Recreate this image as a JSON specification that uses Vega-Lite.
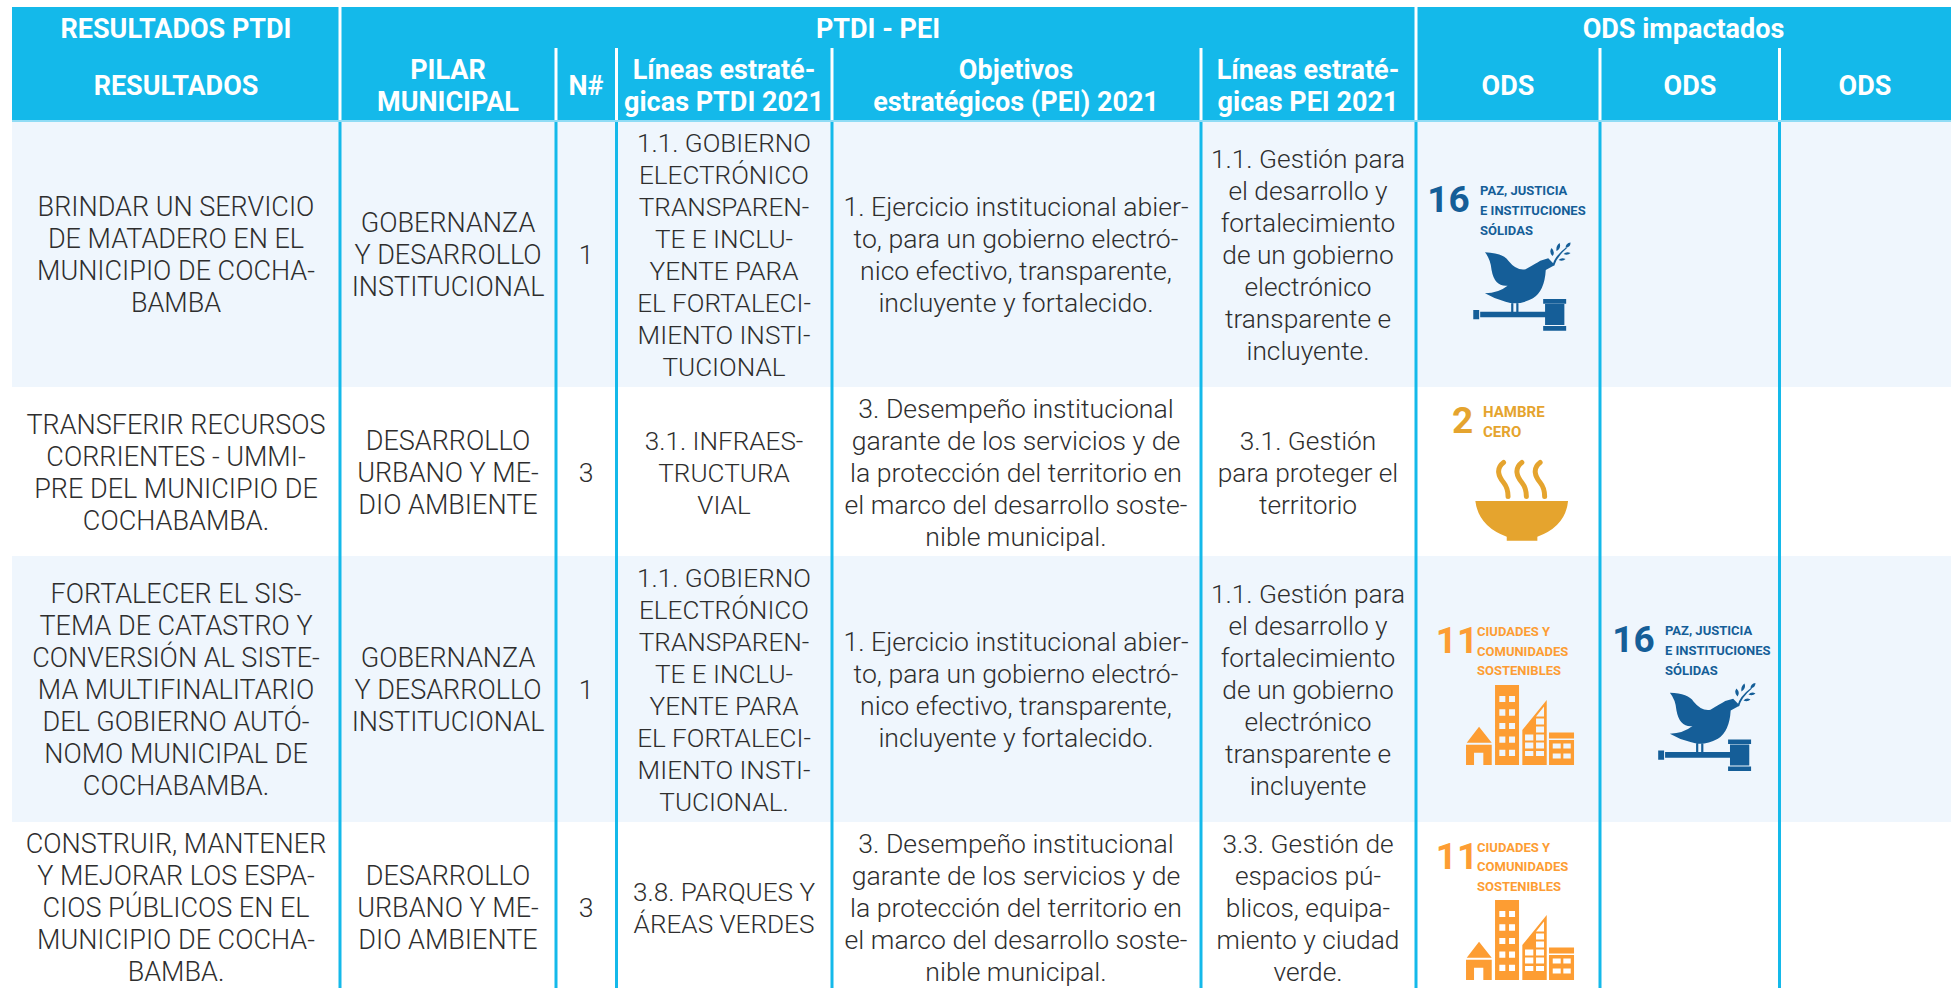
{"$schema":"https://vega.github.io/schema/vega-lite/v6.json","width":1951,"height":988,"padding":0,"autosize":{"type":"none"},"background":"#ffffff","config":{"view":{"stroke":null},"axis":{"domain":false}},
"resolve":{"scale":{"color":"independent"}},
"datasets":{
"bands":[{"left":0.5,"right":9.5,"top":-1.5,"bottom":0.5,"kind":"header"},{"left":0.5,"right":9.5,"top":0.5,"bottom":1.5,"kind":"odd"},{"left":0.5,"right":9.5,"top":2.5,"bottom":3.5,"kind":"odd"}],
"dataLines":[{"edge":1.5},{"edge":2.5},{"edge":3.5},{"edge":4.5},{"edge":5.5},{"edge":6.5},{"edge":7.5},{"edge":8.5}],
"headLines":[{"edge":1.5,"from":-1.5},{"edge":2.5,"from":-0.5},{"edge":3.5,"from":-0.5},{"edge":4.5,"from":-0.5},{"edge":5.5,"from":-0.5},{"edge":6.5,"from":-1.5},{"edge":7.5,"from":-0.5},{"edge":8.5,"from":-0.5}],
"headers":[{"col":1,"row":-1,"lines":1,"text":"RESULTADOS PTDI"},{"col":4.625,"row":-1,"lines":1,"text":"PTDI - PEI"},{"col":7.964,"row":-1,"lines":1,"text":"ODS impactados"},{"col":1,"row":0,"lines":1,"text":"RESULTADOS"},{"col":2,"row":0,"lines":2,"text":"PILAR\nMUNICIPAL"},{"col":3,"row":0,"lines":1,"text":"N#"},{"col":4,"row":0,"lines":2,"text":"Líneas estraté-\ngicas PTDI 2021"},{"col":5,"row":0,"lines":2,"text":"Objetivos\nestratégicos (PEI) 2021"},{"col":6,"row":0,"lines":2,"text":"Líneas estraté-\ngicas PEI 2021"},{"col":7,"row":0,"lines":1,"text":"ODS"},{"col":8,"row":0,"lines":1,"text":"ODS"},{"col":9,"row":0,"lines":1,"text":"ODS"}],
"cells":[
{"col":1,"row":1,"lines":4,"text":"BRINDAR UN SERVICIO\nDE MATADERO EN EL\nMUNICIPIO DE COCHA-\nBAMBA"},
{"col":2,"row":1,"lines":3,"text":"GOBERNANZA\nY DESARROLLO\nINSTITUCIONAL"},
{"col":3,"row":1,"lines":1,"text":"1"},
{"col":4,"row":1,"lines":8,"text":"1.1. GOBIERNO\nELECTRÓNICO\nTRANSPAREN-\nTE E INCLU-\nYENTE PARA\nEL FORTALECI-\nMIENTO INSTI-\nTUCIONAL"},
{"col":5,"row":1,"lines":4,"text":"1. Ejercicio institucional abier-\nto, para un gobierno electró-\nnico efectivo, transparente,\nincluyente y fortalecido."},
{"col":6,"row":1,"lines":7,"text":"1.1. Gestión para\nel desarrollo y\nfortalecimiento\nde un gobierno\nelectrónico\ntransparente e\nincluyente."},
{"col":1,"row":2,"lines":4,"text":"TRANSFERIR RECURSOS\nCORRIENTES - UMMI-\nPRE DEL MUNICIPIO DE\nCOCHABAMBA."},
{"col":2,"row":2,"lines":3,"text":"DESARROLLO\nURBANO Y ME-\nDIO AMBIENTE"},
{"col":3,"row":2,"lines":1,"text":"3"},
{"col":4,"row":2,"lines":3,"text":"3.1. INFRAES-\nTRUCTURA\nVIAL"},
{"col":5,"row":2,"lines":5,"text":"3. Desempeño institucional\ngarante de los servicios y de\nla protección del territorio en\nel marco del desarrollo soste-\nnible municipal."},
{"col":6,"row":2,"lines":3,"text":"3.1. Gestión\npara proteger el\nterritorio"},
{"col":1,"row":3,"lines":7,"text":"FORTALECER EL SIS-\nTEMA DE CATASTRO Y\nCONVERSIÓN AL SISTE-\nMA MULTIFINALITARIO\nDEL GOBIERNO AUTÓ-\nNOMO MUNICIPAL DE\nCOCHABAMBA."},
{"col":2,"row":3,"lines":3,"text":"GOBERNANZA\nY DESARROLLO\nINSTITUCIONAL"},
{"col":3,"row":3,"lines":1,"text":"1"},
{"col":4,"row":3,"lines":8,"text":"1.1. GOBIERNO\nELECTRÓNICO\nTRANSPAREN-\nTE E INCLU-\nYENTE PARA\nEL FORTALECI-\nMIENTO INSTI-\nTUCIONAL."},
{"col":5,"row":3,"lines":4,"text":"1. Ejercicio institucional abier-\nto, para un gobierno electró-\nnico efectivo, transparente,\nincluyente y fortalecido."},
{"col":6,"row":3,"lines":7,"text":"1.1. Gestión para\nel desarrollo y\nfortalecimiento\nde un gobierno\nelectrónico\ntransparente e\nincluyente"},
{"col":1,"row":4,"lines":5,"text":"CONSTRUIR, MANTENER\nY MEJORAR LOS ESPA-\nCIOS PÚBLICOS EN EL\nMUNICIPIO DE COCHA-\nBAMBA."},
{"col":2,"row":4,"lines":3,"text":"DESARROLLO\nURBANO Y ME-\nDIO AMBIENTE"},
{"col":3,"row":4,"lines":1,"text":"3"},
{"col":4,"row":4,"lines":2,"text":"3.8. PARQUES Y\nÁREAS VERDES"},
{"col":5,"row":4,"lines":5,"text":"3. Desempeño institucional\ngarante de los servicios y de\nla protección del territorio en\nel marco del desarrollo soste-\nnible municipal."},
{"col":6,"row":4,"lines":5,"text":"3.3. Gestión de\nespacios pú-\nblicos, equipa-\nmiento y ciudad\nverde."}
],
"ods":[
{"goal":"16","col":6.677,"row":0.801,"title":"PAZ, JUSTICIA\nE INSTITUCIONES\nSÓLIDAS"},
{"goal":"2","col":6.753,"row":1.71,"title":"HAMBRE\nCERO"},
{"goal":"11","col":6.723,"row":2.825,"title":"CIUDADES Y\nCOMUNIDADES\nSOSTENIBLES"},
{"goal":"16","col":7.686,"row":2.821,"title":"PAZ, JUSTICIA\nE INSTITUCIONES\nSÓLIDAS"},
{"goal":"11","col":6.723,"row":3.709,"title":"CIUDADES Y\nCOMUNIDADES\nSOSTENIBLES"}
]},
"encoding":{},
"layer":[
{"data":{"name":"bands"},"mark":{"type":"rect"},"encoding":{
"x":{"field":"left","type":"quantitative","axis":null,"scale":{"domain":[0.5,1,1.5,2,2.5,3,3.5,4,4.5,5,5.5,6,6.5,7,7.5,8,8.5,9,9.5],"range":[12,176,340,448,556,586,616.5,724,832,1016,1201,1308,1416,1508,1600,1690,1779.5,1865,1951],"nice":false,"zero":false}},
"x2":{"field":"right"},
"y":{"field":"top","type":"quantitative","axis":null,"scale":{"domain":[-1.5,-1,-0.5,0,0.5,1,1.5,2,2.5,3,3.5,4,4.5],"range":[7,29,48,85.5,121,254,387,471.5,556,689,822,907,992],"nice":false,"zero":false}},
"y2":{"field":"bottom"},
"color":{"field":"kind","type":"nominal","legend":null,"scale":{"domain":["header","odd"],"range":["#14b9ea","#eff6fd"]}}}},
{"data":{"name":"dataLines"},"mark":{"type":"rule","color":"#14b9ea","strokeWidth":3},"encoding":{"x":{"field":"edge","type":"quantitative"},"y":{"datum":0.5,"type":"quantitative"},"y2":{"datum":4.5}}},
{"data":{"name":"headLines"},"mark":{"type":"rule","color":"#ffffff","strokeWidth":3},"encoding":{"x":{"field":"edge","type":"quantitative"},"y":{"field":"from","type":"quantitative"},"y2":{"datum":0.5}}},
{"data":{"values":[{"left":0.5,"right":9.5}]},"mark":{"type":"rule","color":"#8fdcf5","strokeWidth":2},"encoding":{"x":{"field":"left","type":"quantitative"},"x2":{"field":"right"},"y":{"datum":0.5,"type":"quantitative"}}},
{"data":{"name":"headers"},"transform":[{"filter":"datum.lines==1"}],"mark":{"type":"text","font":"Roboto","fontWeight":700,"fontSize":27,"color":"#ffffff","baseline":"middle","align":"center","dy":1},"encoding":{"x":{"field":"col","type":"quantitative"},"y":{"field":"row","type":"quantitative"},"text":{"field":"text"}}},
{"data":{"name":"headers"},"transform":[{"filter":"datum.lines==2"}],"mark":{"type":"text","font":"Roboto","fontWeight":700,"fontSize":27,"color":"#ffffff","lineBreak":"\n","lineHeight":32,"baseline":"middle","align":"center","dy":-15},"encoding":{"x":{"field":"col","type":"quantitative"},"y":{"field":"row","type":"quantitative"},"text":{"field":"text"}}},
{"data":{"name":"cells"},"transform":[{"filter":"datum.lines==1"}],"mark":{"type":"text","font":"Roboto","fontWeight":300,"color":"#2e2e2e","lineBreak":"\n","lineHeight":32,"baseline":"middle","align":"center","dy":2},"encoding":{"x":{"field":"col","type":"quantitative"},"y":{"field":"row","type":"quantitative"},"text":{"field":"text"},"size":{"field":"col","type":"quantitative","legend":null,"scale":{"zero":false,"nice":false,"domain":[1,2,3,4,5,6],"range":[27,27,26.6,26.1,26.6,26.3]}}}},
{"data":{"name":"cells"},"transform":[{"filter":"datum.lines==2"}],"mark":{"type":"text","font":"Roboto","fontWeight":300,"color":"#2e2e2e","lineBreak":"\n","lineHeight":32,"baseline":"middle","align":"center","dy":-14},"encoding":{"x":{"field":"col","type":"quantitative"},"y":{"field":"row","type":"quantitative"},"text":{"field":"text"},"size":{"field":"col","type":"quantitative","legend":null,"scale":{"zero":false,"nice":false,"domain":[1,2,3,4,5,6],"range":[27,27,26.6,26.1,26.6,26.3]}}}},
{"data":{"name":"cells"},"transform":[{"filter":"datum.lines==3"}],"mark":{"type":"text","font":"Roboto","fontWeight":300,"color":"#2e2e2e","lineBreak":"\n","lineHeight":32,"baseline":"middle","align":"center","dy":-30},"encoding":{"x":{"field":"col","type":"quantitative"},"y":{"field":"row","type":"quantitative"},"text":{"field":"text"},"size":{"field":"col","type":"quantitative","legend":null,"scale":{"zero":false,"nice":false,"domain":[1,2,3,4,5,6],"range":[27,27,26.6,26.1,26.6,26.3]}}}},
{"data":{"name":"cells"},"transform":[{"filter":"datum.lines==4"}],"mark":{"type":"text","font":"Roboto","fontWeight":300,"color":"#2e2e2e","lineBreak":"\n","lineHeight":32,"baseline":"middle","align":"center","dy":-46},"encoding":{"x":{"field":"col","type":"quantitative"},"y":{"field":"row","type":"quantitative"},"text":{"field":"text"},"size":{"field":"col","type":"quantitative","legend":null,"scale":{"zero":false,"nice":false,"domain":[1,2,3,4,5,6],"range":[27,27,26.6,26.1,26.6,26.3]}}}},
{"data":{"name":"cells"},"transform":[{"filter":"datum.lines==5"}],"mark":{"type":"text","font":"Roboto","fontWeight":300,"color":"#2e2e2e","lineBreak":"\n","lineHeight":32,"baseline":"middle","align":"center","dy":-62},"encoding":{"x":{"field":"col","type":"quantitative"},"y":{"field":"row","type":"quantitative"},"text":{"field":"text"},"size":{"field":"col","type":"quantitative","legend":null,"scale":{"zero":false,"nice":false,"domain":[1,2,3,4,5,6],"range":[27,27,26.6,26.1,26.6,26.3]}}}},
{"data":{"name":"cells"},"transform":[{"filter":"datum.lines==7"}],"mark":{"type":"text","font":"Roboto","fontWeight":300,"color":"#2e2e2e","lineBreak":"\n","lineHeight":32,"baseline":"middle","align":"center","dy":-94},"encoding":{"x":{"field":"col","type":"quantitative"},"y":{"field":"row","type":"quantitative"},"text":{"field":"text"},"size":{"field":"col","type":"quantitative","legend":null,"scale":{"zero":false,"nice":false,"domain":[1,2,3,4,5,6],"range":[27,27,26.6,26.1,26.6,26.3]}}}},
{"data":{"name":"cells"},"transform":[{"filter":"datum.lines==8"}],"mark":{"type":"text","font":"Roboto","fontWeight":300,"color":"#2e2e2e","lineBreak":"\n","lineHeight":32,"baseline":"middle","align":"center","dy":-110},"encoding":{"x":{"field":"col","type":"quantitative"},"y":{"field":"row","type":"quantitative"},"text":{"field":"text"},"size":{"field":"col","type":"quantitative","legend":null,"scale":{"zero":false,"nice":false,"domain":[1,2,3,4,5,6],"range":[27,27,26.6,26.1,26.6,26.3]}}}},
{"data":{"name":"ods"},"mark":{"type":"text","font":"Roboto","fontWeight":700,"fontSize":37,"baseline":"middle","align":"center"},"encoding":{"x":{"field":"col","type":"quantitative"},"y":{"field":"row","type":"quantitative"},"text":{"field":"goal"},"color":{"field":"goal","type":"nominal","legend":null,"scale":{"domain":["16","2","11"],"range":["#155e98","#e5a42e","#fd9d33"]}}}},
{"data":{"name":"ods"},"transform":[{"filter":"datum.goal=='16'"}],"mark":{"type":"text","font":"Roboto","fontWeight":700,"fontSize":13,"lineBreak":"\n","lineHeight":20,"baseline":"middle","align":"left","dx":31.5,"dy":-10,"color":"#155e98"},"encoding":{"x":{"field":"col","type":"quantitative"},"y":{"field":"row","type":"quantitative"},"text":{"field":"title"}}},
{"data":{"name":"ods"},"transform":[{"filter":"datum.goal=='2'"}],"mark":{"type":"text","font":"Roboto","fontWeight":700,"fontSize":15,"lineBreak":"\n","lineHeight":20,"baseline":"middle","align":"left","dx":20.5,"dy":-10.5,"color":"#e5a42e"},"encoding":{"x":{"field":"col","type":"quantitative"},"y":{"field":"row","type":"quantitative"},"text":{"field":"title"}}},
{"data":{"name":"ods"},"transform":[{"filter":"datum.goal=='11'"}],"mark":{"type":"text","font":"Roboto","fontWeight":700,"fontSize":13,"lineBreak":"\n","lineHeight":19.5,"baseline":"middle","align":"left","dx":20,"dy":-10,"color":"#fd9d33"},"encoding":{"x":{"field":"col","type":"quantitative"},"y":{"field":"row","type":"quantitative"},"text":{"field":"title"}}},
{"data":{"name":"ods"},"transform":[{"filter":"datum.goal=='16'"}],"mark":{"type":"point","filled":true,"opacity":1,"size":4,"strokeWidth":0,"color":"#155e98","shape":"M36.4 51.3 Q55 52 60 60 Q68 70 77 68.3 Q88 62 91.7 59.7 L99.7 57.3 L106.3 64 L97.2 69 Q96 90 84.4 97.3 Q70 105 57 100.7 Q46 98 36.4 92.3 Q50 92 59 84.7 Q46 86 43 69 Q42 58 36.4 51.3 Z M62.6 100 H64.8 V111 H62.6 Z M67.7 100 H69.9 V111 H67.7 Z M31.6 110.7 H97.2 V116.3 H31.6 Z M24.7 109 H30.6 V118.3 H24.7 Z M96.5 103 H115.8 V124 H96.5 Z M94.6 98 H117.6 V102.7 H94.6 Z M94.6 125 H117.6 V129.7 H94.6 Z M104 64 Q106 55 118 46 L118.5 47 Q108 56 105.5 65 Z M117 47 Q117 42 122 41.5 Q122 46 117 47 Z M108 50 Q107 45 111 42 Q113 47 108 50 Z M104 55 Q100 51 103 47 Q107 51 104 55 Z M115 53 Q118 50 122 52 Q119 55 115 53 Z M110 59 Q113 56 117 58 Q114 61 110 59 Z"},"encoding":{"x":{"field":"col","type":"quantitative"},"y":{"field":"row","type":"quantitative"}}},
{"data":{"name":"ods"},"transform":[{"filter":"datum.goal=='2'"}],"mark":{"type":"point","filled":true,"opacity":1,"size":4,"strokeWidth":0,"color":"#e5a42e","shape":"M12.8 78.5 L105.5 78.5 Q103 104 74.8 114.2 L74.8 118.2 L44.2 118.2 L44.2 114.2 Q16 104 12.8 78.5 Z"},"encoding":{"x":{"field":"col","type":"quantitative"},"y":{"field":"row","type":"quantitative"}}},
{"data":{"name":"ods"},"transform":[{"filter":"datum.goal=='2'"}],"mark":{"type":"point","filled":false,"opacity":1,"size":4,"strokeWidth":5,"strokeCap":"round","color":"#e5a42e","shape":"M41 40 C33 46 36 54 41 60 C45 65 45.5 69 45.5 74 M59.3 40 C51.3 46 54.3 54 59.3 60 C63.3 65 63.8 69 63.8 74 M77.6 40 C69.6 46 72.6 54 77.6 60 C81.6 65 82.1 69 82.1 74"},"encoding":{"x":{"field":"col","type":"quantitative"},"y":{"field":"row","type":"quantitative"}}},
{"data":{"name":"ods"},"transform":[{"filter":"datum.goal=='11'"}],"mark":{"type":"point","filled":true,"opacity":1,"size":4,"strokeWidth":0,"color":"#fd9d33","shape":"M9.7 100.2 L22 84.2 L34.7 100.2 Z M9 102.2 H34.7 V122.5 H26.3 V110.2 H17 V122.5 H9 Z M38 42.5 H62 V122.5 H38 Z M42.3 53.5 V59.5 H48.3 V53.5 Z M52 53.5 V59.5 H58 V53.5 Z M42.3 66.8 V73.2 H48.3 V66.8 Z M52 66.8 V73.2 H58 V66.8 Z M42.3 80.5 V86.5 H48.3 V80.5 Z M52 80.5 V86.5 H58 V80.5 Z M42.3 94 V100.2 H48.3 V94 Z M52 94 V100.2 H58 V94 Z M42.3 107.2 V113.5 H48.3 V107.2 Z M52 107.2 V113.5 H58 V107.2 Z M65.3 87.5 L89.7 57.5 V122.5 H65.3 Z M68 92 V98 H76.3 V92 Z M79 92 V98 H87 V92 Z M68 100 V106 H76.3 V100 Z M79 100 V106 H87 V100 Z M68 108.5 V113.5 H76.3 V108.5 Z M79 108.5 V113.5 H87 V108.5 Z M79 84 V90 H87 V84 Z M79 76 V82 H87 V76 Z M79 74 H87 V64 Z M92 90 H117 V96 H92 Z M92 97.5 H117 V122.5 H92 Z M95.7 101 V106 H103.7 V101 Z M106.3 101 V106 H113.7 V101 Z M95.7 111 V116 H103.7 V111 Z M106.3 111 V116 H113.7 V111 Z"},"encoding":{"x":{"field":"col","type":"quantitative"},"y":{"field":"row","type":"quantitative"}}}
]}
